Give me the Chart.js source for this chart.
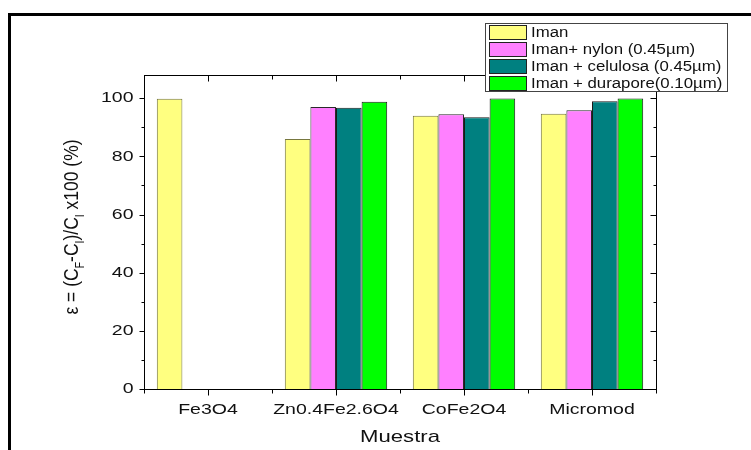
<!DOCTYPE html>
<html>
<head>
<meta charset="utf-8">
<script src="https://cdn.jsdelivr.net/npm/chart.js@4/dist/chart.umd.min.js"></script>
<style>
  html, body { margin: 0; padding: 0; background: #fff; }
  #c { display: block; }
</style>
</head>
<body>
<canvas id="c" width="751" height="450"></canvas>
<script>
// Sample names along the x axis
const muestras = ['Fe3O4', 'Zn0.4Fe2.6O4', 'CoFe2O4', 'Micromod'];

// Removal efficiency (%) for each separation method
const iman        = [99.8, 86.0, 94.0, 94.7];
const imanNylon   = [null, 97.0, 94.5, 95.9];
const imanCelul   = [null, 96.7, 93.5, 99.0];
const imanDurap   = [null, 98.8, 99.9, 99.9];

const serieNames = ['Iman', 'Iman+ nylon (0.45\u00b5m)', 'Iman + celulosa (0.45\u00b5m)', 'Iman + durapore(0.10\u00b5m)'];

// Axis ticks
const yMajorTicks = [0, 20, 40, 60, 80, 100];
const yMinorTicks = [10, 30, 50, 70, 90];
const yMax = 108;

const fills   = ['#ffff80', '#ff80ff', '#008080', '#00ff00'];
const borders = ['#77773f', '#2a2a2a', '#1a1a1a', '#1a1a1a'];

const TXT = '#111';
const FONT = '"Liberation Sans", Arial, sans-serif';
const SX = 1.3; // horizontal widening of the glyphs

function stretchedText(ctx, text, x, y, size, align, baseline, sx) {
  ctx.save();
  ctx.font = size + 'px ' + FONT;
  ctx.fillStyle = TXT;
  ctx.textAlign = align;
  ctx.textBaseline = baseline;
  ctx.translate(x, y);
  ctx.scale(sx, 1);
  ctx.fillText(text, 0, 0);
  ctx.restore();
}

const originFrame = {
  id: 'originFrame',
  beforeDraw(chart) {
    const ctx = chart.ctx;
    ctx.save();
    ctx.fillStyle = '#fff';
    ctx.fillRect(0, 0, chart.width, chart.height);
    ctx.restore();
  },
  afterDraw(chart) {
    const ctx = chart.ctx;
    const a = chart.chartArea;
    const xs = chart.scales.x, ys = chart.scales.y;
    const L = Math.round(a.left) + 0.5, R = Math.round(a.right) + 0.5;
    const T = Math.round(a.top) + 0.5, B = Math.round(a.bottom) + 0.5;

    ctx.save();
    ctx.strokeStyle = '#000';
    ctx.lineWidth = 1;
    // plot frame
    ctx.strokeRect(L, T, R - L, B - T);

    ctx.beginPath();
    // left axis: ticks outward, right axis: ticks inward
    yMajorTicks.forEach(v => {
      const p = Math.round(ys.getPixelForValue(v)) + 0.5;
      ctx.moveTo(L - 5, p); ctx.lineTo(L, p);
      ctx.moveTo(R - 6, p); ctx.lineTo(R, p);
    });
    yMinorTicks.forEach(v => {
      const p = Math.round(ys.getPixelForValue(v)) + 0.5;
      ctx.moveTo(L - 3, p); ctx.lineTo(L, p);
      ctx.moveTo(R - 3, p); ctx.lineTo(R, p);
    });
    // bottom axis: outward, top axis: inward
    muestras.forEach((m, i) => {
      const p = Math.round(xs.getPixelForValue(i)) + 0.5;
      ctx.moveTo(p, B); ctx.lineTo(p, B + 6);
      ctx.moveTo(p, T); ctx.lineTo(p, T + 6);
    });
    for (let i = 0; i <= muestras.length; i++) {
      const p = Math.round(xs.getPixelForValue(i - 0.5)) + 0.5;
      ctx.moveTo(p, B); ctx.lineTo(p, B + 4);
      ctx.moveTo(p, T); ctx.lineTo(p, T + 4);
    }
    ctx.stroke();
    ctx.restore();

    // tick labels
    yMajorTicks.forEach(v => {
      stretchedText(ctx, String(v), L - 11, ys.getPixelForValue(v), 15, 'right', 'middle', SX);
    });
    muestras.forEach((m, i) => {
      stretchedText(ctx, m, xs.getPixelForValue(i), B + 24, 15, 'center', 'alphabetic', SX);
    });

    // axis titles
    stretchedText(ctx, 'Muestra', (a.left + a.right) / 2, 442, 17, 'center', 'alphabetic', SX);

    // y title with subscripts, rotated
    const parts = [
      ['\u03b5 = (C', false], ['F', true], ['-C', false], ['I', true],
      [')/C', false], ['I', true], [' x100 (%)', false]
    ];
    const mainSize = 17.5, subSize = 10.5;
    ctx.save();
    let total = 0;
    parts.forEach(([t, sub]) => {
      ctx.font = (sub ? subSize : mainSize) + 'px ' + FONT;
      total += ctx.measureText(t).width;
    });
    ctx.translate(78, 227);
    ctx.rotate(-Math.PI / 2);
    ctx.scale(1, 1.2);
    ctx.fillStyle = TXT;
    ctx.textBaseline = 'alphabetic';
    ctx.textAlign = 'left';
    let x = -total / 2;
    parts.forEach(([t, sub]) => {
      ctx.font = (sub ? subSize : mainSize) + 'px ' + FONT;
      ctx.fillText(t, x, sub ? 5 : 0);
      x += ctx.measureText(t).width;
    });
    ctx.restore();

    // legend box
    const lx = 485.5, ly = 23.5, lw = 242, lh = 68;
    ctx.save();
    ctx.fillStyle = '#fff';
    ctx.fillRect(lx, ly, lw, lh);
    ctx.strokeStyle = '#444';
    ctx.lineWidth = 1;
    ctx.strokeRect(lx, ly, lw, lh);
    chart.data.datasets.forEach((ds, i) => {
      const ry = 25.5 + i * 17;
      ctx.fillStyle = ds.backgroundColor;
      ctx.fillRect(489.5, ry, 37, 14);
      ctx.strokeStyle = '#222';
      ctx.strokeRect(489.5, ry, 37, 14);
      stretchedText(ctx, ds.label, 531, ry + 7.5, 14, 'left', 'middle', 1.2);
    });
    ctx.restore();

    // outer border
    ctx.save();
    ctx.fillStyle = '#000';
    ctx.fillRect(8, 13, 751 - 8, 3);
    ctx.fillRect(8, 13, 3, 450 - 13);
    ctx.restore();
  }
};

const seriesValues = [iman, imanNylon, imanCelul, imanDurap];

new Chart(document.getElementById('c'), {
  type: 'bar',
  data: {
    labels: muestras,
    datasets: seriesValues.map((vals, i) => ({
      label: serieNames[i],
      data: vals,
      backgroundColor: fills[i],
      borderColor: borders[i],
      borderWidth: 1,
      categoryPercentage: 0.8,
      barPercentage: 1.0
    }))
  },
  options: {
    responsive: false,
    animation: false,
    devicePixelRatio: 1,
    layout: { padding: { left: 144, right: 95, top: 75, bottom: 61 } },
    scales: {
      x: { display: false, offset: true },
      y: { display: false, min: 0, max: yMax }
    },
    plugins: { legend: { display: false }, tooltip: { enabled: false } }
  },
  plugins: [originFrame]
});
</script>
</body>
</html>
